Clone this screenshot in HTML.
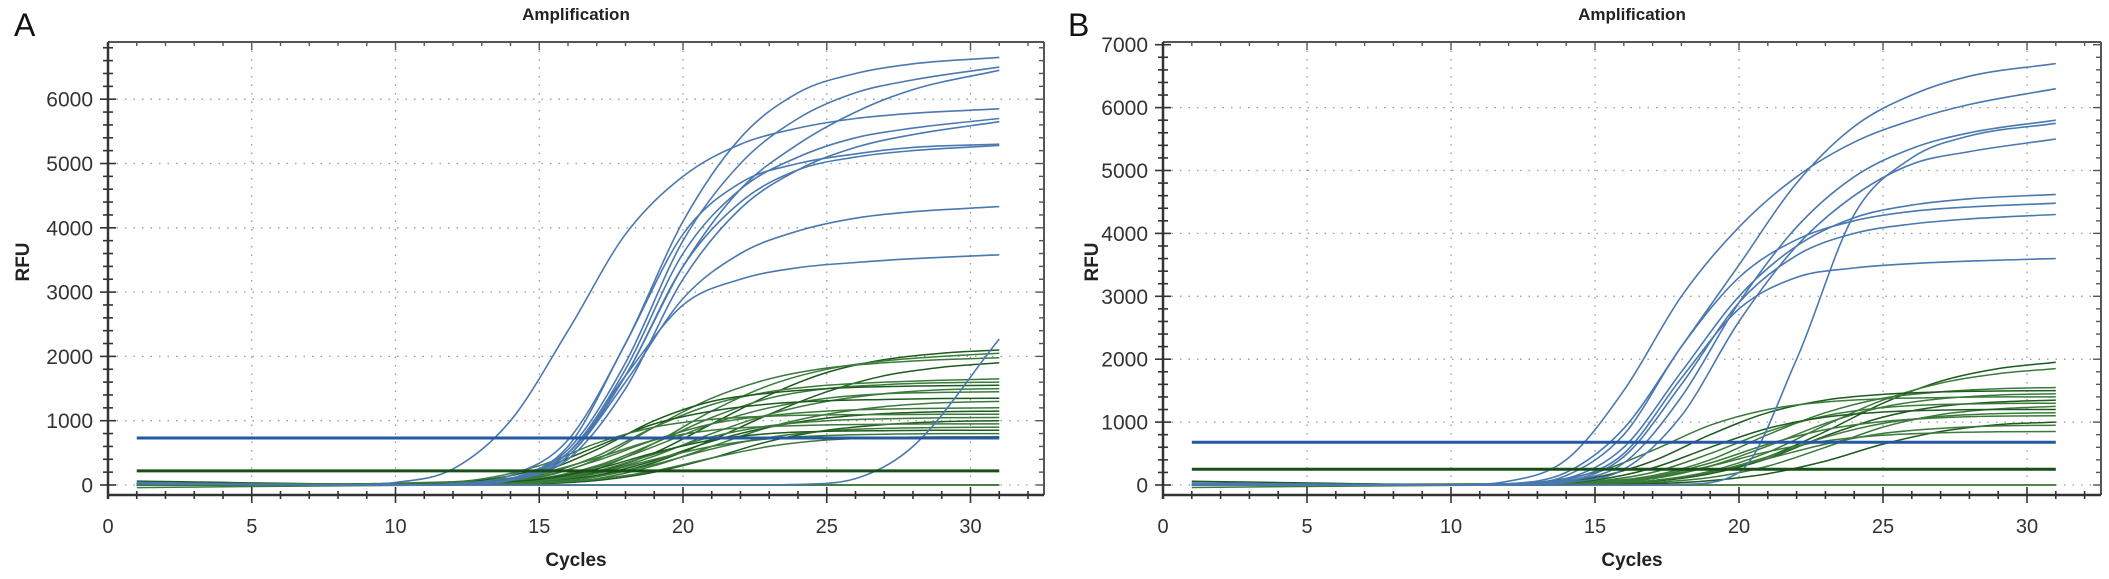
<!DOCTYPE html>
<html><head><meta charset="utf-8">
<style>
html,body{margin:0;padding:0;background:#fff;}
svg{display:block;font-family:"Liberation Sans",Arial,sans-serif;}
</style></head>
<body>
<svg id="chart" width="2109" height="579" viewBox="0 0 2109 579" xmlns="http://www.w3.org/2000/svg">
<text x="14" y="36" font-size="32" fill="#111">A</text>
<text x="1068" y="36" font-size="32" fill="#111">B</text>
</svg>
<script>
// ---------- data ----------
const blueCyclesA = [1,8,10,12,14,16,18,20,22,24,26,28,31];
const blueSeriesA = [
 [40,0,40,250,1000,2400,3900,4800,5300,5550,5700,5780,5850],
 [30,0,0,20,150,700,2200,4100,5400,6100,6400,6550,6650],
 [20,0,0,10,100,550,1900,3800,5000,5700,6100,6300,6500],
 [20,0,0,10,100,500,1700,3400,4600,5300,5800,6150,6450],
 [20,0,0,10,90,500,1800,3600,4600,5100,5400,5550,5700],
 [20,0,0,5,70,400,1500,3200,4300,4900,5250,5450,5650],
 [20,0,0,10,100,600,2200,3900,4700,5000,5150,5250,5300],
 [20,0,0,5,80,450,1700,3400,4400,4900,5100,5200,5280],
 [20,0,0,5,80,450,1600,2900,3600,3950,4150,4250,4330],
 [20,0,0,5,80,500,1700,2800,3200,3380,3460,3520,3580],
 [20,0,0,0,0,0,0,0,0,10,100,600,2270]
];
const greenCyclesA = [1,12,15,17,19,21,23,25,27,29,31];
const greenSeriesA = [
 [0,10,60,200,500,950,1400,1750,1950,2050,2100],
 [0,10,80,250,650,1150,1550,1800,1930,2000,2050],
 [0,20,120,400,900,1350,1650,1820,1900,1950,1980],
 [0,5,40,130,350,700,1100,1450,1700,1830,1900],
 [0,20,150,450,900,1250,1450,1550,1600,1630,1650],
 [0,10,100,300,650,1050,1350,1500,1560,1590,1600],
 [0,30,200,550,1000,1300,1430,1500,1530,1545,1550],
 [0,5,50,180,450,800,1100,1300,1420,1480,1500],
 [0,10,90,280,600,950,1200,1350,1420,1440,1450],
 [0,40,250,600,950,1150,1260,1310,1330,1345,1350],
 [0,5,30,100,300,600,900,1100,1220,1280,1300],
 [0,20,130,380,700,950,1080,1150,1180,1195,1200],
 [0,5,50,150,380,680,900,1040,1110,1140,1150],
 [0,50,300,650,900,1020,1070,1090,1095,1100,1100],
 [0,10,70,220,480,750,920,1000,1030,1045,1050],
 [0,5,20,70,200,420,680,850,940,985,1000],
 [0,30,180,420,700,850,910,935,945,950,950],
 [0,5,40,130,320,560,740,840,880,895,900],
 [0,15,90,250,500,700,800,835,845,850,850],
 [0,10,60,180,400,600,720,770,790,800,800],
 [0,5,30,90,220,420,600,700,735,748,750],
 [60,0,0,0,0,0,0,0,0,0,0],
 [-40,0,0,0,0,0,0,0,0,0,0],
 [30,10,0,0,0,0,0,0,0,0,0]
];
const thresholdsA = [730, 220];

const blueCyclesB = [1,10,12,14,16,18,20,22,24,26,28,31];
const blueSeriesB = [
 [30,0,60,400,1500,3000,4100,4900,5450,5800,6050,6300],
 [30,0,20,200,900,2200,3500,4800,5700,6200,6500,6700],
 [0,0,0,0,0,10,200,2000,4300,5200,5550,5750],
 [0,0,0,60,350,1400,2900,4100,4900,5350,5600,5800],
 [0,0,0,40,250,1100,2600,3800,4600,5100,5300,5500],
 [0,0,10,100,600,1800,3000,3800,4250,4450,4550,4620],
 [0,0,10,150,800,2200,3300,3900,4200,4350,4420,4480],
 [0,0,0,60,450,1600,2900,3650,4000,4150,4230,4300],
 [0,0,0,80,500,1700,2800,3300,3450,3520,3560,3600]
];
const greenCyclesB = [1,12,15,17,19,21,23,25,27,29,31];
const greenSeriesB = [
 [0,0,20,60,180,450,850,1300,1650,1850,1950],
 [0,0,20,70,220,520,950,1350,1620,1770,1850],
 [0,5,50,150,400,800,1150,1380,1480,1530,1550],
 [0,10,120,380,800,1150,1350,1440,1480,1495,1500],
 [0,0,30,100,300,620,980,1240,1370,1430,1450],
 [0,20,200,550,950,1200,1320,1370,1390,1400,1400],
 [0,0,15,60,180,420,780,1080,1250,1320,1350],
 [0,5,60,200,500,850,1100,1230,1280,1295,1300],
 [0,0,10,40,120,300,600,920,1120,1210,1250],
 [0,10,80,270,600,900,1080,1160,1190,1200,1200],
 [0,0,20,70,200,450,760,980,1090,1135,1150],
 [0,5,40,130,350,650,880,1010,1070,1095,1100],
 [0,0,5,20,70,180,380,650,850,960,1000],
 [0,0,20,70,200,420,650,820,900,940,950],
 [0,5,40,120,300,530,700,790,830,845,850],
 [60,0,0,0,0,0,0,0,0,0,0],
 [-40,0,0,0,0,0,0,0,0,0,0]
];
const thresholdsB = [680, 250];

const xTicks = [0,5,10,15,20,25,30];
const yTicksA = [0,1000,2000,3000,4000,5000,6000];
const yTicksB = [0,1000,2000,3000,4000,5000,6000,7000];

// ---------- drawing ----------
const NS = "http://www.w3.org/2000/svg";
const svg = document.getElementById('chart');
function mk(tag, attrs, parent){
  const e = document.createElementNS(NS, tag);
  for (const k in attrs) e.setAttribute(k, attrs[k]);
  (parent||svg).appendChild(e);
  return e;
}
function smoothPath(pts){
  const n = pts.length;
  const dx=[], dy=[], m=[], t=new Array(n);
  for (let i=0;i<n-1;i++){ dx[i]=pts[i+1][0]-pts[i][0]; dy[i]=pts[i+1][1]-pts[i][1]; m[i]=dy[i]/dx[i]; }
  t[0]=m[0]; t[n-1]=m[n-2];
  for (let i=1;i<n-1;i++){ t[i] = (m[i-1]*m[i] <= 0) ? 0 : (m[i-1]+m[i])/2; }
  for (let i=0;i<n-1;i++){
    if (m[i]===0){ t[i]=0; t[i+1]=0; continue; }
    const a=t[i]/m[i], b=t[i+1]/m[i], s=a*a+b*b;
    if (s>9){ const k=3/Math.sqrt(s); t[i]=k*a*m[i]; t[i+1]=k*b*m[i]; }
  }
  let d = "M"+pts[0][0].toFixed(1)+","+pts[0][1].toFixed(1);
  for (let i=0;i<n-1;i++){
    const h=dx[i]/3;
    d += "C"+(pts[i][0]+h).toFixed(1)+","+(pts[i][1]+t[i]*h).toFixed(1)+" "+(pts[i+1][0]-h).toFixed(1)+","+(pts[i+1][1]-t[i+1]*h).toFixed(1)+" "+pts[i+1][0].toFixed(1)+","+pts[i+1][1].toFixed(1);
  }
  return d;
}

function panel(cfg){
  const g = mk('g', {});
  
  
  const X = c => cfg.left + c * cfg.pxPerCycle;
  const Y = v => cfg.y0 - v * cfg.pxPerUnit;
  const L=cfg.left,R=cfg.right,T=cfg.top,B=cfg.bottom;
  xTicks.forEach(t=>{ if(t===0) return; const gl=mk('line',{x1:X(t),x2:X(t),y1:T,y2:B,stroke:'#999','stroke-width':1.3,'stroke-dasharray':'1.5,7'},g);
      });
  cfg.yTicks.forEach(t=>{ if(Y(t)<T+3) return; const gl=mk('line',{x1:L,x2:R,y1:Y(t),y2:Y(t),stroke:'#999','stroke-width':1.3,'stroke-dasharray':'1.5,7'},g);
      });
  const curves = mk('g',{fill:'none'},g);
  
  
  cfg.green.forEach((s,i)=>{
    const p = mk('path',{d:smoothPath(s.map((v,j)=>[X(cfg.greenCycles[j]),Y(v)])),stroke:(i%3===0?'#1d5a1d':'#3b7a3b'),'stroke-width':1.5,fill:'none'},curves);
    
    
  });
  cfg.blue.forEach((s,i)=>{
    const p = mk('path',{d:smoothPath(s.map((v,j)=>[X(cfg.blueCycles[j]),Y(v)])),stroke:'#4a78b0','stroke-width':1.6,fill:'none'},curves);
    
    
  });
  const tb = mk('line',{x1:X(1),x2:X(31),y1:Y(cfg.thr[0]),y2:Y(cfg.thr[0]),stroke:'#2558a0','stroke-width':3},g);
   
  const tg = mk('line',{x1:X(1),x2:X(31),y1:Y(cfg.thr[1]),y2:Y(cfg.thr[1]),stroke:'#174f17','stroke-width':3},g);
   
  mk('line',{x1:L,x2:R,y1:T,y2:T,stroke:'#555','stroke-width':2},g);
  mk('line',{x1:R,x2:R,y1:T,y2:B,stroke:'#555','stroke-width':2},g);
  const xa = mk('line',{x1:L,x2:R,y1:B,y2:B,stroke:'#333','stroke-width':2.5},g);
   
  const ya = mk('line',{x1:L,x2:L,y1:T,y2:B+4,stroke:'#333','stroke-width':2.5},g);
   
  for(let c=1;X(c)<R-2;c++){
    const maj = c%5===0, len = maj?8:4;
    mk('line',{x1:X(c),x2:X(c),y1:B-len,y2:B+len,stroke:'#333','stroke-width':1.6},g);
    mk('line',{x1:X(c),x2:X(c),y1:T,y2:T+len,stroke:'#555','stroke-width':1.4},g);
  }
  for(let v=-200; Y(v)>T+2; v+=200){
    if (Y(v)>B) continue;
    const maj = v%1000===0, len = maj?8:5;
    mk('line',{x1:L-len,x2:L+len,y1:Y(v),y2:Y(v),stroke:'#333','stroke-width':1.6},g);
    mk('line',{x1:R-len,x2:R,y1:Y(v),y2:Y(v),stroke:'#555','stroke-width':1.4},g);
  }
  xTicks.forEach(t=>{
    const tx = mk('text',{x:X(t),y:533,'font-size':20,'text-anchor':'middle',fill:'#333'},g);
    tx.textContent=t;
     
  });
  cfg.yTicks.forEach(t=>{
    const tx = mk('text',{x:L-15,y:Y(t)+7.5,'font-size':21,'text-anchor':'end',fill:'#333'},g);
    tx.textContent=t;
     
  });
  const tt = mk('text',{x:(L+R)/2,y:20,'font-size':17,'font-weight':'bold','text-anchor':'middle',fill:'#222'},g);
  tt.textContent='Amplification';
   
  const xt = mk('text',{x:(L+R)/2,y:566,'font-size':19,'font-weight':'bold','text-anchor':'middle',fill:'#222'},g);
  xt.textContent='Cycles';
   
  const yt = mk('text',{x:0,y:0,'font-size':19,'font-weight':'bold','text-anchor':'middle',fill:'#222',transform:'translate('+cfg.rfuX+',262) rotate(-90)'},g);
  yt.textContent='RFU';
   
}

panel({name:'panel-a', left:108, right:1044, top:42, bottom:495, y0:485, pxPerCycle:28.75, pxPerUnit:0.0643,
  yTicks:yTicksA, blue:blueSeriesA, blueCycles:blueCyclesA, green:greenSeriesA, greenCycles:greenCyclesA, thr:thresholdsA, rfuX:29});
panel({name:'panel-b', left:1163, right:2101, top:42, bottom:495, y0:485, pxPerCycle:28.8, pxPerUnit:0.0629,
  yTicks:yTicksB, blue:blueSeriesB, blueCycles:blueCyclesB, green:greenSeriesB, greenCycles:greenCyclesB, thr:thresholdsB, rfuX:1098});
</script>
</body></html>
